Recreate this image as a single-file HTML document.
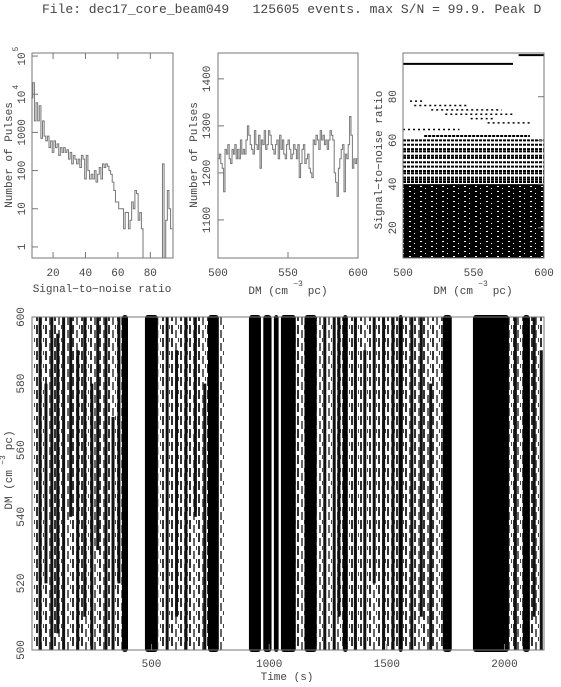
<!DOCTYPE html>
<html><head><meta charset="utf-8"><style>
body{margin:0;background:#fff;width:561px;height:682px;overflow:hidden}
svg text{font-family:"Liberation Mono",monospace;fill:#444;white-space:pre}
</style></head><body>
<svg id="c" width="561" height="682">
<defs>
<pattern id="tex" width="9" height="13" patternUnits="userSpaceOnUse">
<rect width="9" height="13" fill="#fff"/>
<rect x="0" y="0" width="2" height="9" fill="#333"/>
<rect x="4" y="5" width="2" height="8" fill="#666"/>
<rect x="7" y="0" width="1" height="4" fill="#444"/>
</pattern>
<pattern id="spk" width="11" height="5" patternUnits="userSpaceOnUse">
<rect width="11" height="5" fill="#000"/>
<rect x="2" y="1" width="2" height="1" fill="#fff"/>
<rect x="7" y="3" width="1" height="1" fill="#fff"/>
</pattern>
</defs>
<text x="42" y="13" font-size="13">File: dec17_core_beam049   125605 events. max S/N = 99.9. Peak D</text>
</svg>
<script>
// ---- data ----
const snrBins=[7,8,9,10,11,12,13,14,15,16,17,18,19,20,21,22,23,24,25,26,27,28,29,30,31,32,33,34,35,36,37,38,39,40,41,42,43,44,45,46,47,48,49,50,51,52,53,54,55,56,57,58,59,60,61,62,63,64,65,66,67,68,69,70,71,72,73,74,75,76,77,78,79,80,81,82,83,84,85,86,87,88,89,90,91,92,93];
const snrCounts=[8000,20000,2000,6000,2000,5000,700,2000,800,600,800,400,600,300,600,400,500,250,400,300,400,300,350,200,300,150,250,200,150,200,120,250,200,60,250,100,60,80,60,100,50,80,120,60,150,120,150,130,100,80,50,30,15,15,10,10,10,3,8,8,3,5,15,10,30,25,5,8,3,0.1,0.1,0.1,0.1,0.1,0.1,0.1,0.1,0.1,0.1,0.1,0.1,150,0.1,5,30,10,3];
const dmBins=[];for(let i=0;i<100;i++)dmBins.push(500+i);
const dmCounts=[1230,1240,1220,1210,1160,1250,1240,1260,1230,1220,1250,1240,1260,1230,1250,1230,1270,1240,1250,1240,1270,1300,1280,1260,1250,1240,1290,1260,1250,1280,1210,1270,1260,1290,1250,1260,1290,1280,1260,1250,1240,1260,1270,1230,1280,1250,1270,1240,1230,1260,1270,1250,1230,1240,1260,1250,1230,1260,1190,1220,1250,1260,1220,1230,1240,1210,1200,1190,1270,1260,1280,1270,1250,1290,1270,1280,1260,1270,1250,1270,1290,1280,1270,1200,1180,1150,1210,1230,1250,1260,1160,1240,1230,1260,1320,1280,1210,1230,1220,1230];
const rowSNR=[99,95,78,76,74,72,70,68,65,62,60,58,56,55,53,52,50,48,46,45,43,42,41];
const rowFrom=[582,500,505,508,520,530,548,560,500,515,500,500,500,500,500,500,500,500,500,500,500,500,500];
const rowTo=[600,578,515,545,570,578,565,590,540,590,600,600,600,600,600,600,600,600,600,600,600,600,600];
const bandStart=[374,472,740,914,975,1020,1050,1150,1313,1550,1738,1866,2078];
const bandEnd=[400,527,786,965,1010,1040,1113,1202,1334,1568,1776,2019,2108];
const texStart=[0,530,790,1113,1202,1334,1568,2019,2108];
const texEnd=[374,740,810,1150,1313,1550,1738,2078,2168];
const streakT=[20,45,70,95,120,150,180,210,240,265,300,330,355,560,600,640,680,720,1230,1270,1290,1360,1400,1440,1480,1520,1600,1640,1680,2040,2120,2150];
const streakD0=[500,520,500,505,500,540,500,510,500,530,500,500,520,500,510,500,540,500,500,500,510,500,500,520,500,500,500,510,500,500,510,500];
const streakD1=[600,580,600,595,600,600,590,600,580,600,600,570,600,600,590,600,600,580,600,600,600,600,590,600,600,600,600,600,580,600,600,590];
// ---- helpers ----
const svg=document.getElementById('c');const NS='http://www.w3.org/2000/svg';
function mk(t,a,p){const e=document.createElementNS(NS,t);for(const k in a)e.setAttribute(k,a[k]);(p||svg).appendChild(e);return e;}
function txt(x,y,s,opt){const e=mk('text',Object.assign({x:x,y:y,'font-size':11,'text-anchor':'middle'},opt||{}));e.textContent=s;return e;}
function frame(x0,y0,x1,y1,name){const r=mk('rect',{x:x0,y:y0,width:x1-x0,height:y1-y0,fill:'none',stroke:'#777','stroke-width':1});

}
// ---- panel 1 ----
const P1={x0:32,x1:173,y0:53,y1:258};
const sx1=v=>P1.x0+(v-7)/(94-7)*(P1.x1-P1.x0);
const sy1=v=>P1.y1-(Math.log10(v)-(-0.29))/(5.08+0.29)*(P1.y1-P1.y0);
let g1=mk('g',{});


let d='';snrBins.forEach((b,i)=>{const y=Math.min(P1.y1,Math.max(P1.y0,sy1(snrCounts[i])));d+=(i?'L':'M')+sx1(b-0.5)+','+y+'L'+sx1(b+0.5)+','+y;});
mk('path',{d:d,fill:'none',stroke:'#777','stroke-width':1},g1);
frame(P1.x0,P1.y0,P1.x1,P1.y1,'snr-histogram-frame');
[20,40,60,80].forEach(v=>{mk('line',{x1:sx1(v),x2:sx1(v),y1:P1.y1,y2:P1.y1-6,stroke:'#777'});mk('line',{x1:sx1(v),x2:sx1(v),y1:P1.y0,y2:P1.y0+6,stroke:'#777'});txt(sx1(v),276,v);});
[[1,'1'],[10,'10'],[100,'100'],[1000,'1000']].forEach(([v,s])=>{mk('line',{x1:P1.x0,x2:P1.x0+6,y1:sy1(v),y2:sy1(v),stroke:'#777'});txt(0,0,s,{transform:`translate(25,${sy1(v)}) rotate(-90)`});});
[[1e4,'4'],[1e5,'5']].forEach(([v,s])=>{mk('line',{x1:P1.x0,x2:P1.x0+6,y1:sy1(v),y2:sy1(v),stroke:'#777'});txt(0,0,'10',{transform:`translate(25,${sy1(v)+3}) rotate(-90)`});txt(0,0,s,{transform:`translate(18,${sy1(v)-7}) rotate(-90)`,'font-size':8});});
txt(102,292,'Signal−to−noise ratio',{});
txt(0,0,'Number of Pulses',{transform:'translate(12,155) rotate(-90)'});
// ---- panel 2 ----
const P2={x0:218,x1:358,y0:53,y1:258};
const sx2=v=>P2.x0+(v-500)/100*(P2.x1-P2.x0);
const sy2=v=>P2.y1-(v-1019)/(1455-1019)*(P2.y1-P2.y0);
let g2=mk('g',{});


d='';dmBins.forEach((b,i)=>{const y=sy2(dmCounts[i]);d+=(i?'L':'M')+sx2(b)+','+y+'L'+sx2(b+1)+','+y;});
mk('path',{d:d,fill:'none',stroke:'#777','stroke-width':1},g2);
frame(P2.x0,P2.y0,P2.x1,P2.y1,'dm-histogram-frame');
[500,550,600].forEach(v=>{mk('line',{x1:sx2(v),x2:sx2(v),y1:P2.y1,y2:P2.y1-6,stroke:'#777'});txt(sx2(v),276,v);});
[1100,1200,1300,1400].forEach(v=>{mk('line',{x1:P2.x0,x2:P2.x0+6,y1:sy2(v),y2:sy2(v),stroke:'#777'});txt(0,0,v,{transform:`translate(210,${sy2(v)}) rotate(-90)`});});
txt(288,294,'DM (cm   pc)');txt(298,286,'−3',{'font-size':8});
txt(0,0,'Number of Pulses',{transform:'translate(197,155) rotate(-90)'});
// ---- panel 3 ----
const P3={x0:403,x1:544,y0:53,y1:258};
const sx3=v=>P3.x0+(v-500)/100*(P3.x1-P3.x0);
const sy3=v=>P3.y1-(v-6.2)/(100-6.2)*(P3.y1-P3.y0);
let g3=mk('g',{});


mk('rect',{x:P3.x0,y:sy3(40),width:P3.x1-P3.x0,height:P3.y1-sy3(40),fill:'url(#spk)'},g3);
rowSNR.forEach((s,i)=>{mk('line',{x1:sx3(rowFrom[i]),x2:sx3(rowTo[i]),y1:sy3(s),y2:sy3(s),stroke:'#000','stroke-width':i<2?2:(i<9?1.5:2),'stroke-dasharray':i<2?'none':(i<9?'2 3':'3 1')},g3);});
frame(P3.x0,P3.y0,P3.x1,P3.y1,'scatter-frame');
[500,550,600].forEach(v=>txt(sx3(v),276,v));
[20,40,60,80].forEach(v=>{mk('line',{x1:P3.x1,x2:P3.x1-6,y1:sy3(v),y2:sy3(v),stroke:'#777'});txt(0,0,v,{transform:`translate(396,${sy3(v)}) rotate(-90)`});});
txt(473,294,'DM (cm   pc)');txt(483,286,'−3',{'font-size':8});
txt(0,0,'Signal−to−noise ratio',{transform:'translate(382,160) rotate(-90)'});
// ---- bottom panel ----
const P4={x0:32,x1:544,y0:317,y1:650};
const sx4=v=>P4.x0+(v+8)/(2168+8)*(P4.x1-P4.x0);
const sy4=v=>P4.y1-(v-500)/100*(P4.y1-P4.y0);
let g4=mk('g',{});


texStart.forEach((t,i)=>mk('rect',{x:sx4(t),y:P4.y0,width:sx4(texEnd[i])-sx4(t),height:P4.y1-P4.y0,fill:'url(#tex)'},g4));
streakT.forEach((t,i)=>mk('rect',{x:sx4(t),y:sy4(streakD1[i]),width:3,height:sy4(streakD0[i])-sy4(streakD1[i]),fill:'#111'},g4));
bandStart.forEach((t,i)=>mk('rect',{x:sx4(t),y:P4.y0-2,width:sx4(bandEnd[i])-sx4(t),height:P4.y1-P4.y0+4,fill:'#000',rx:3},g4));
frame(P4.x0,P4.y0,P4.x1,P4.y1,'dm-time-frame');
[500,1000,1500,2000].forEach(v=>{mk('line',{x1:sx4(v),x2:sx4(v),y1:P4.y1,y2:P4.y1-6,stroke:'#777'});txt(sx4(v),667,v);});
[500,520,540,560,580,600].forEach(v=>txt(0,0,v,{transform:`translate(24,${sy4(v)}) rotate(-90)`}));
txt(287,680,'Time (s)');
txt(0,0,'DM (cm   pc)',{transform:'translate(12,470) rotate(-90)'});
txt(0,0,'−3',{transform:'translate(5,460) rotate(-90)','font-size':8});
</script>
</body></html>
